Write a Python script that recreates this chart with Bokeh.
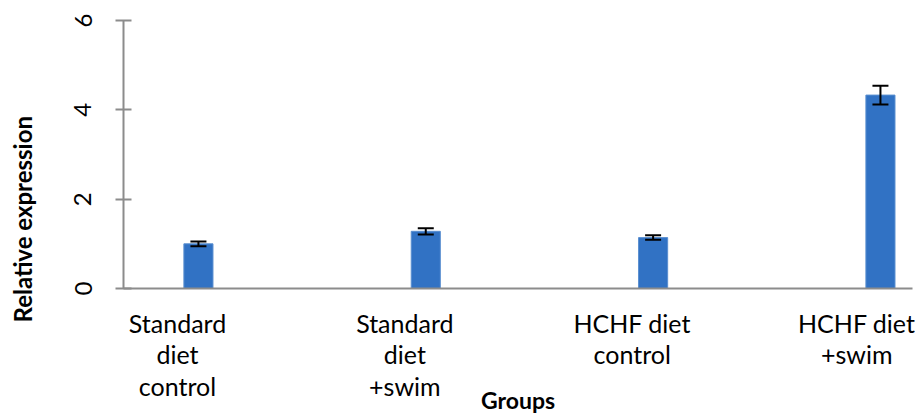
from bokeh.plotting import figure
from bokeh.models import ColumnDataSource, Whisker, TeeHead, FixedTicker, Range1d, Title
from bokeh.embed import file_html
from bokeh.resources import INLINE

categories = ["Standard\ndiet\ncontrol", "Standard\ndiet\n+swim", "HCHF diet\ncontrol", "HCHF diet\n+swim"]
values = [1.00, 1.28, 1.14, 4.33]
errors = [0.055, 0.07, 0.05, 0.21]
y_ticks = [0, 2, 4, 6]

FONT = "Lato"
bar_offset = 0.092
idx = list(range(len(categories)))
xb = [i + bar_offset for i in idx]

src = ColumnDataSource(dict(
    x=xb, top=values,
    upper=[v + e for v, e in zip(values, errors)],
    lower=[v - e for v, e in zip(values, errors)],
))

p = figure(width=915, height=416, output_backend="svg", toolbar_location=None,
           x_range=Range1d(-0.2376, 3.233), y_range=Range1d(0, 6),
           min_border_left=123, min_border_right=3, min_border_top=20, min_border_bottom=128)
p.outline_line_color = None
p.grid.grid_line_color = None
p.background_fill_color = "white"
p.border_fill_color = "white"

p.vbar(x="x", top="top", width=0.128, source=src, fill_color="#3172C4", line_color="#5A8FD0", line_width=1)

w = Whisker(base="x", upper="upper", lower="lower", source=src, line_color="black", line_width=2,
            level="overlay",
            upper_head=TeeHead(size=16, line_width=2, line_color="black"),
            lower_head=TeeHead(size=16, line_width=2, line_color="black"))
p.add_layout(w)

# x axis
xa = p.xaxis[0]
xa.ticker = FixedTicker(ticks=idx)
xa.major_label_overrides = {i: c for i, c in zip(idx, categories)}
xa.major_tick_line_color = None
xa.minor_tick_line_color = None
xa.axis_line_color = "#8C8C8C"
xa.axis_line_width = 2
xa.major_label_text_font = FONT
xa.major_label_text_font_size = "25px"
xa.major_label_text_line_height = 1.05
xa.major_label_text_color = "black"
xa.major_label_standoff = 13
xa.axis_label = "Groups"
xa.axis_label_text_font = FONT
xa.axis_label_text_font_style = "bold"
xa.axis_label_text_font_size = "23px"
xa.axis_label_text_color = "black"
xa.axis_label_standoff = -18

# y axis
ya = p.yaxis[0]
ya.ticker = FixedTicker(ticks=y_ticks)
ya.minor_tick_line_color = None
ya.axis_line_color = "#8C8C8C"
ya.axis_line_width = 2
ya.major_tick_line_color = "#8C8C8C"
ya.major_tick_line_width = 2
ya.major_tick_in = 8
ya.major_tick_out = 8
ya.major_label_orientation = "vertical"
ya.major_label_text_font = FONT
ya.major_label_text_font_size = "24px"
ya.major_label_text_color = "black"
ya.major_label_standoff = 24
ya.axis_label = " "
ya.axis_label_text_font_size = "1px"
ya.axis_label_standoff = 29

ytitle = Title(text="Relative expression", align="left", offset=-34, standoff=0,
               vertical_align="top", text_font=FONT, text_font_style="bold",
               text_font_size="24px", text_color="black")
p.add_layout(ytitle, "left")

open("out.html", "w").write(file_html(p, INLINE))
